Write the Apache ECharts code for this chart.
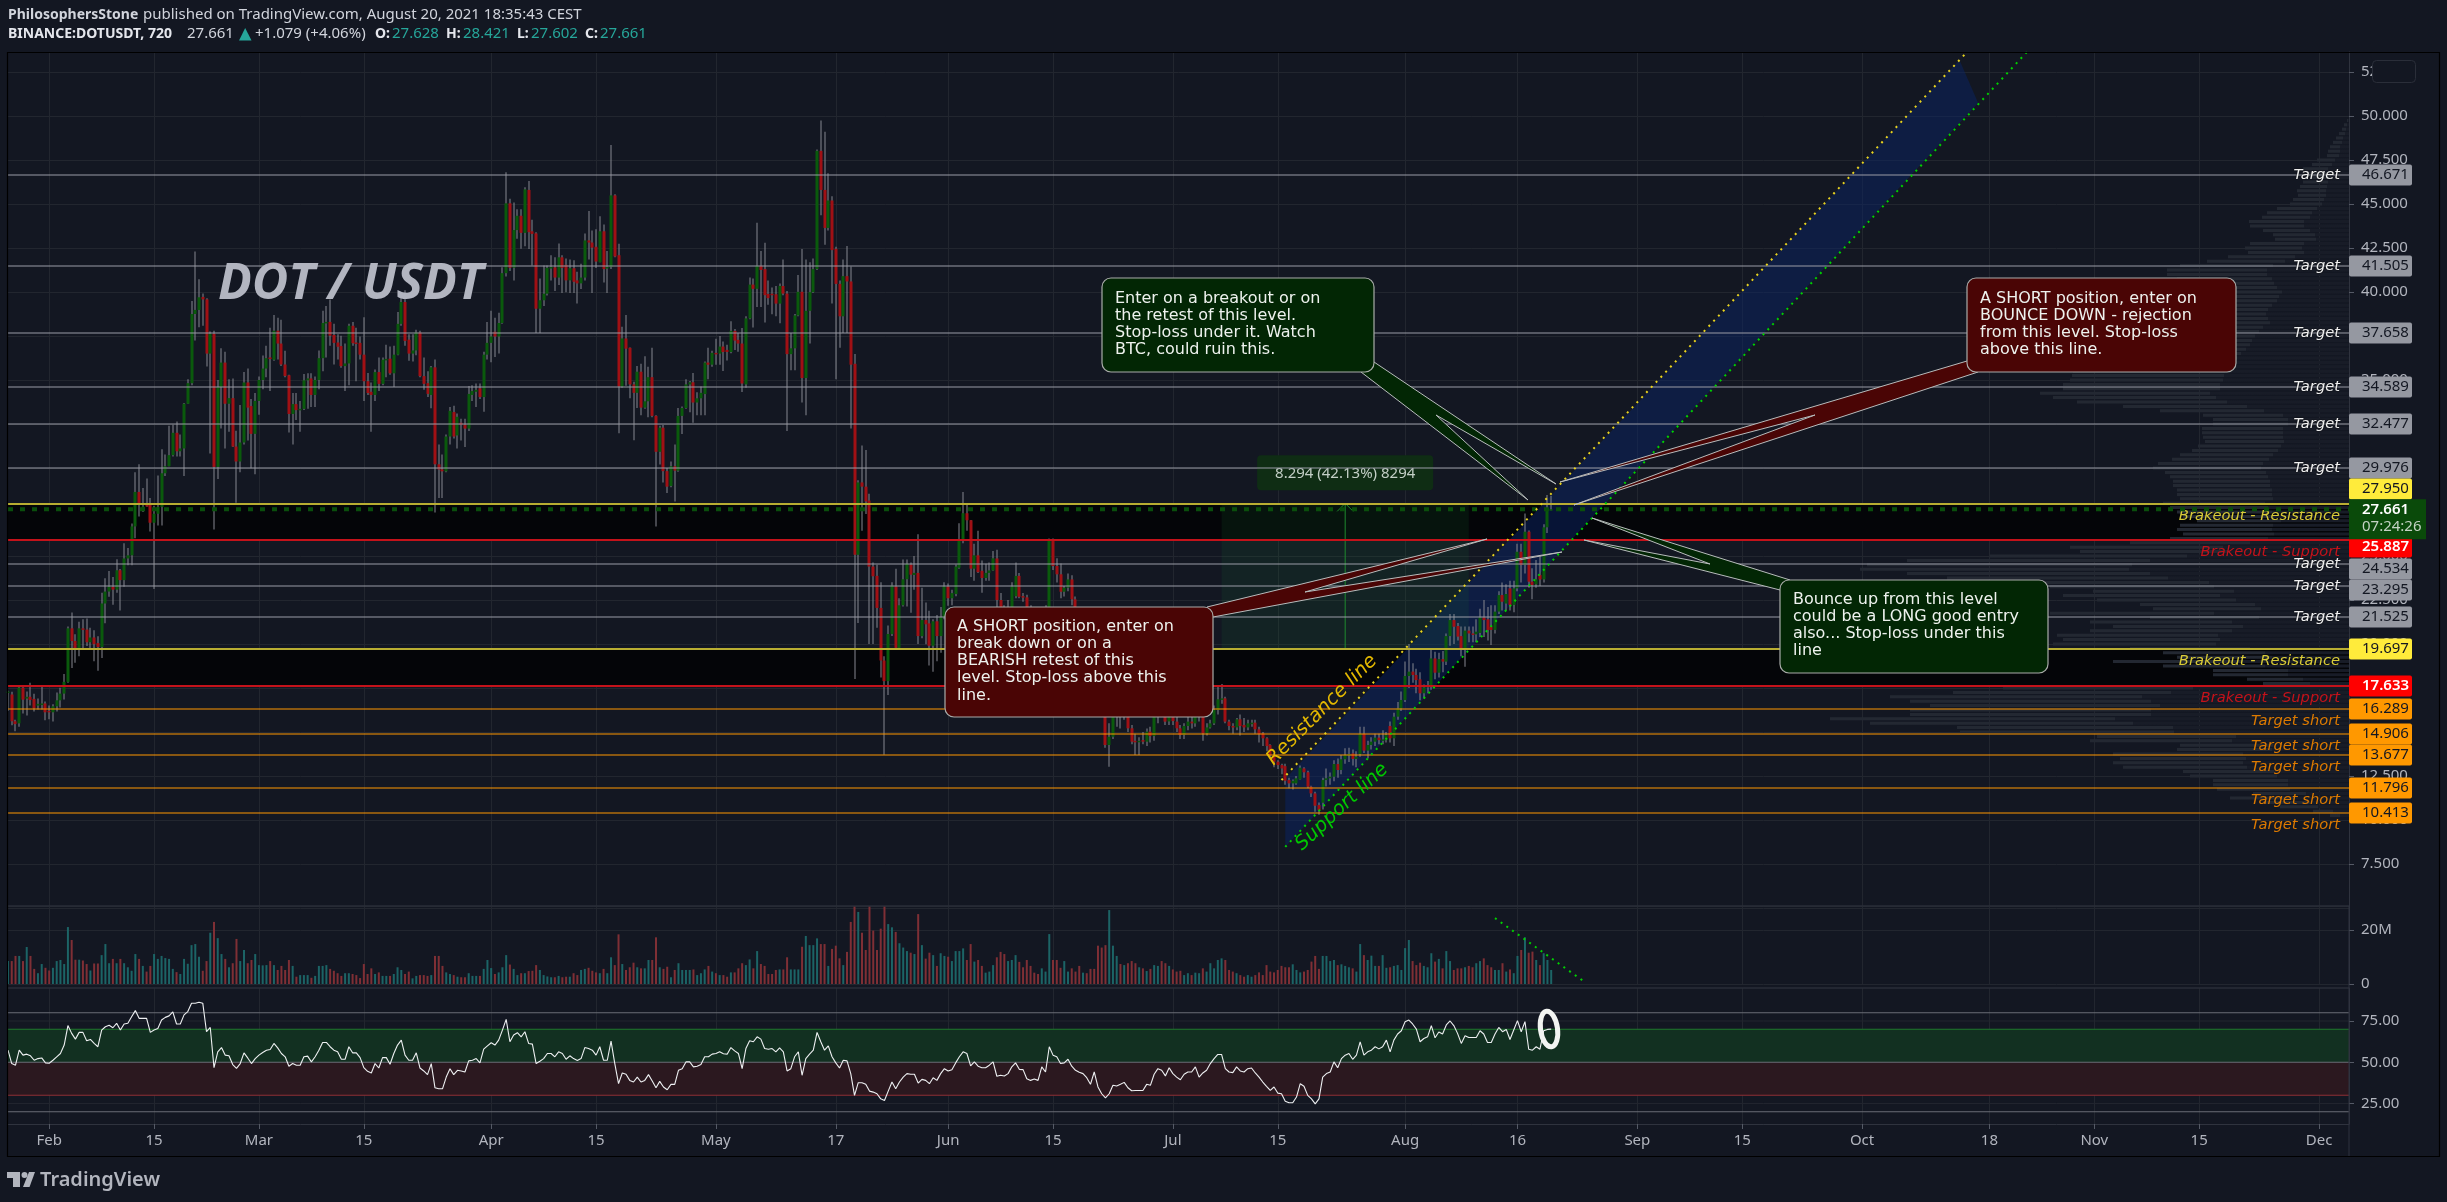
<!DOCTYPE html>
<html><head><meta charset="utf-8"><title>DOT / USDT</title>
<style>html,body{margin:0;padding:0;background:#131722;overflow:hidden}#c{width:2447px;height:1202px}</style>
<script src="https://cdn.jsdelivr.net/npm/echarts@6/dist/echarts.min.js"></script></head><body><div id="c"></div><script>
// candles, 12h: [open, close, low, high]
const ohlc=[[17.3,17.3,16.2,17.35],[17.13,15.61,15.38,17.29],[15.61,15.45,15.04,15.7],[15.49,17.52,15.3,17.6],[17.52,16.84,16.05,17.63],[16.9,17,15.94,17.3],[17,16.82,16.5,17.8],[16.88,16.35,16.17,17.18],[16.5,16.6,16.28,16.9],[16.53,16.62,16.28,17.58],
[16.62,16.12,15.67,16.73],[16.2,16.12,15.72,16.5],[16.12,16.46,15.6,16.57],[16.46,16.8,16.17,17.25],[16.8,17.18,16.39,17.52],[17.18,17.85,16.84,18.3],[17.85,20.89,17.8,21],[20.89,20.17,18.64,21.79],[20.17,19.72,18.93,20.55],[19.72,20.89,19.31,21.27],
[20.89,20.82,19.76,21.4],[20.82,20.1,19.88,21.45],[20.1,20.37,19.76,20.93],[20.37,19.99,19.02,20.78],[20.05,19.83,18.48,20.44],[19.83,22.3,19.2,22.91],[22.3,22.98,21.18,23.74],[22.98,23.25,22.68,24.15],[23.25,23.09,22.23,23.81],[23.09,24.19,22.91,24.82],
[24.19,23.63,21.9,24.26],[23.63,24.86,23.25,25.72],[24.86,25.04,24.48,25.45],[25.04,26.68,24.48,26.84],[26.68,28.64,26.01,29.76],[28.64,27.97,27.25,30.21],[27.6,27.8,27.5,28.86],[27.9,27.85,27.8,29.4],[27.92,26.89,26.39,28.3],[26.89,27.4,23.13,27.85],
[27.4,27.79,26.73,29.58],[27.79,29.7,26.73,31.07],[29.7,30.1,29.54,30.77],[30.1,30.73,30.1,32.4],[30.73,32,30.66,32.46],[32,30.95,30.66,32.64],[30.95,31.11,30.66,31.9],[31.11,33.65,29.54,33.7],[33.65,34.82,33.65,35.04],[34.82,38.75,34.7,39.49],
[38.75,38.98,37.25,42.3],[38.98,39.7,38,40.73],[39.72,39.58,38.08,39.92],[39.58,36.5,35.76,39.65],[36.5,37.63,30.82,37.76],[37.63,30.06,26.5,37.8],[30.06,34.6,29.38,35],[34.6,35.99,32.24,36.8],[35.99,33.65,31.11,36.6],[33.65,33.97,32.06,35.04],
[33.97,31.22,31.2,35.09],[31.22,30.37,28.03,32.12],[30.37,31.45,29.76,33.58],[31.45,34.86,31.34,35.45],[34.86,33.43,31.56,35.65],[33.52,31.94,29.99,33.92],[31.94,33.81,29.65,34.26],[33.81,35,33.02,35.2],[35,35.65,34.48,36.39],[35.65,36.24,35.16,36.95],
[36.28,36.19,34.37,37.97],[36.15,37.8,36.1,38.7],[37.8,37.07,36.17,38.53],[37.07,35.88,35.8,38.42],[35.88,35.23,35.16,36.66],[35.27,33.07,32.01,35.3],[33.07,33.63,31.34,34.26],[33.63,33.29,32.73,34.26],[33.29,33.36,32.06,33.81],[33.36,34.98,33.3,35.34],
[34.98,35.09,33.36,35.38],[35.09,34.15,33.47,35.38],[34.15,35,33.47,35.2],[35,36.24,34.48,36.68],[36.24,38.24,35.49,38.93],[38.24,38.3,36.28,39.2],[38.3,37.52,36.95,39.58],[37.56,37.11,35.88,38.2],[37.13,36.89,36.17,37.6],[36.93,35.79,35.7,37.52],
[35.79,35.94,34.37,37.07],[35.94,38.08,34.7,38.2],[38.08,37.09,36.95,38.3],[37.13,37.07,34.93,37.97],[37.11,36.44,36.17,37.47],[36.44,34.93,33.81,38.57],[34.93,34.26,34.15,35.4],[34.33,34.15,32.06,34.86],[34.15,35.45,33.81,35.6],[35.45,34.78,34.37,36.28],
[34.78,36.15,34.7,36.28],[36.15,36.2,35.16,37],[36.21,35.38,35.3,36.91],[35.38,36.44,34.6,36.95],[36.44,38.19,36.4,38.86],[38.19,39.43,38.08,39.76],[39.43,37.22,36.95,40.1],[37.29,36.5,36.1,37.6],[36.5,36.68,36.05,37.6],[36.68,37.7,36.4,37.85],
[37.7,35.22,35.16,37.8],[35.22,34.78,34.44,36.28],[34.82,34.21,34.03,35.49],[34.15,35.72,33.4,35.8],[35.72,30.21,27.47,36.17],[30.21,29.92,28.3,31.34],[29.92,29.81,28.3,30.77],[29.81,31.79,29.76,31.9],[31.79,33.25,31.34,33.47],[33.18,31.79,31.67,33.54],
[31.85,32.91,31.11,33.1],[32.57,32.46,31.56,32.8],[32.46,32.24,31.2,32.8],[32.24,34.21,32.1,34.66],[34.15,34.37,33.81,34.7],[34.33,34.44,33.47,34.8],[34.53,34.03,33.92,34.8],[34.03,36.44,33.2,36.6],[36.44,37.11,36.17,38.3],[37.11,37.47,36.01,38.93],
[37.74,37.47,36.3,38.53],[37.47,38.24,36.5,38.82],[38.24,41.07,38.19,41.4],[41.07,45.04,40.88,46.8],[45.04,41.38,41.2,45.3],[41.38,43.52,40.66,45.09],[43.52,44.33,43.02,44.7],[44.33,43.36,42.46,44.7],[43.36,45.83,42.6,45.95],[45.8,43.4,42.45,46.3],
[43.45,43.3,41.5,44.1],[43.33,39.05,37.67,43.4],[39.05,39.53,37.67,40.77],[39.53,39.9,39.2,41.5],[39.9,41.37,39.8,41.5],[41.35,41.42,40.66,42.09],[41.4,40.82,40.06,41.97],[40.82,41.97,40.4,42.76],[41.97,41.37,39.94,42.09],[41.54,40.66,39.98,41.9],
[40.66,41.35,39.94,41.85],[41.35,40.58,39.94,41.8],[40.66,40.49,39.34,41.15],[40.49,40.82,40.17,41.6],[40.82,42.93,40.66,43.33],[42.93,42.81,41.85,44.6],[42.81,42.52,39.94,43.5],[42.57,41.73,41.37,43.57],[41.69,43.45,41.69,44.3],[43.45,41.3,40.54,43.84],
[41.35,41.42,39.94,42.33],[41.42,45.49,41.3,48.35],[45.49,42.02,41.97,45.55],[42.09,34.63,31.98,42.74],[34.63,37.36,34.56,38.03],[37.36,36.78,34.68,38.7],[36.83,34.75,33.96,36.85],[34.75,34.27,31.57,34.9],[34.27,35.47,33.41,35.8],[35.47,33.43,33,35.92],
[33.43,33.79,33.36,36.35],[33.79,35.16,32.88,35.75],[35.16,32.96,32.88,36.83],[32.96,30.92,26.67,33],[30.92,32.29,30.2,32.4],[32.29,29.82,29.18,32.45],[29.82,28.94,28.58,30],[28.98,30.1,28.9,30.37],[30.1,29.85,28.1,31.33],[29.85,32.96,29.78,33.41],
[32.96,33.41,31.93,33.5],[33.41,34.75,33.36,35.04],[34.75,34.87,33.17,34.95],[34.87,33.72,32.57,35.4],[33.72,33.96,33,34.3],[33.96,34.27,33,34.63],[34.2,35.99,33,36.05],[35.99,35.87,35.04,36.83],[35.87,36.54,35.75,36.66],[36.54,36.47,35.87,37.35],
[36.5,36.9,35.87,37.5],[36.9,36.59,35.51,37.19],[36.71,36.59,36.11,37],[36.59,37.79,36.52,38.34],[37.79,37.24,36.71,37.9],[37.28,37.07,36.6,37.67],[37.07,34.8,34.32,37.95],[34.75,38.5,34.56,38.62],[38.5,40.42,38.45,40.82],[40.42,40.18,37.98,40.77],
[40.18,41.49,39.15,43.93],[41.49,41.25,39.15,42.33],[41.3,39.82,38.26,42.8],[39.89,39.65,39.27,40.66],[39.9,39.82,38.74,40.25],[39.87,39.34,38.62,40.34],[39.34,40.34,38.22,40.48],[40.34,39.91,39.82,41.85],[39.91,36.47,32.1,40.06],[36.47,36.8,35.56,37.67],
[36.8,38.67,35.56,38.75],[38.67,40.01,38.62,40.97],[40.01,35.11,33.72,42.45],[35.11,38.93,33,41.85],[38.93,39.99,37.07,41.69],[39.99,41.3,39.94,41.9],[41.3,48.02,41.25,48.1],[48.02,45.8,44.36,49.74],[45.8,43.64,42.69,49.1],[43.64,45.2,43.5,46.75],
[45.2,42.38,39.34,45.44],[42.45,40.46,35.04,42.57],[40.46,38.62,36.83,40.66],[38.62,40.9,37.67,41.85],[40.9,40.6,37.67,42.62],[40.6,35.87,32.24,41.45],[35.92,25.07,18.01,36.47],[25.07,29.18,21.2,29.3],[29.18,28.94,26.43,31.28],[28.94,28.1,27.38,31.02],
[28.15,24.4,20,28.53],[24.4,23.85,20,24.63],[23.87,22.05,20.93,24.5],[22.05,19.06,18.1,23.51],[19.06,17.89,13.71,19.3],[17.89,20.57,17.1,21.05],[20.57,23.32,20.45,23.51],[23.27,19.78,19.66,24.28],[19.78,22.2,19.7,22.6],[22.2,23.68,22.13,24.8],
[23.68,24.56,22.13,24.8],[24.51,23.94,21.77,24.63],[23.92,24.04,23.08,25],[24.04,20.45,20,26.24],[20.45,21.36,20.33,23.2],[21.36,21.12,19.98,22.36],[21.17,19.9,18.78,21.89],[19.9,21.29,18.42,21.41],[21.29,20.45,19.02,21.65],[20.45,21.53,19.5,22.1],
[21.53,23.27,21.41,23.51],[23.27,22.6,22.17,23.44],[22.6,22.89,22.2,23.08],[22.84,24.4,22.72,24.52],[24.33,25.9,24.28,26.86],[25.9,27.43,25.72,28.63],[27.43,27.03,26.43,27.98],[27.03,24.28,23.8,27.05],[24.28,25.04,23.6,25.7],[25.04,24.08,24.04,26.43],
[24.16,23.75,22.91,24.75],[23.75,24.04,23.6,24.56],[24.04,24.18,23.6,24.63],[24.18,24.87,24.16,25.28],[24.86,22.5,21.5,25.36],[22.5,21.8,21.4,22.9],[21.8,21.3,20.9,22.2],[21.3,22.1,21,22.5],[22.1,23.27,21.9,23.51],[22.72,23.87,22.6,24.63],
[23.87,22.68,22.6,24.04],[22.72,22.65,22.4,22.9],[22.65,21.9,21.4,22.8],[21.9,21.4,21,22.2],[21.4,20.7,20.3,21.7],[20.7,20.3,19.9,21],[20.3,21,20,21.3],[21,22.1,20.8,22.2],[22.1,25.91,21.9,26],[25.91,24.43,24.2,26],
[24.43,23.96,23.5,24.87],[23.96,22.97,22.6,24.58],[22.97,23.2,22.7,23.3],[23.2,23.67,23,24],[23.67,22.54,22.2,23.9],[22.54,21.9,21.3,22.7],[21.3,20.6,20.1,21.7],[20.6,21.2,20.2,21.6],[21.2,20.1,19.7,21.5],[20.1,19.4,19,20.5],
[19.4,18.6,18.2,19.8],[18.6,17.5,17,18.9],[17.5,16.8,16.4,17.9],[16.8,14.26,14.1,17],[14.26,14.73,13.03,15.5],[14.73,15.87,14.6,16.2],[15.9,16.4,15.3,16.9],[16.4,15.9,15.2,16.8],[15.9,16.5,15.7,16.9],[16.5,15.21,15,16.8],
[15.21,14.45,14.3,15.4],[14.5,14.45,13.69,14.9],[14.45,14.5,13.69,14.7],[14.54,14.45,14.3,15],[14.45,15.02,14.2,15.2],[15.02,14.77,14.4,15.3],[14.77,15.87,14.5,16.2],[15.87,16.5,15.5,16.9],[16.5,16.2,15.9,16.9],[16.4,15.59,15.4,16.7],
[15.6,16.2,15.4,16.5],[16.2,15.62,15.4,16.6],[15.59,15.21,15,15.9],[15.21,14.83,14.6,15.4],[14.83,15.34,14.6,15.5],[15.34,15.59,15.1,16],[15.59,15.49,15.2,15.9],[15.49,15.87,15.3,16.2],[15.87,16.4,15.6,17],[16.4,14.92,14.5,16.9],
[14.92,15.26,14.8,15.5],[15.26,15.49,15.2,15.7],[15.49,16.25,15.4,16.5],[16.25,16.86,16,17.6],[16.86,16.91,16.6,17.73],[16.91,15.59,15.5,17],[15.59,15.34,15.1,15.7],[15.34,15.26,14.9,15.5],[15.26,15.72,15.1,15.8],[15.72,15.34,14.8,16],
[15.4,15.26,15,15.8],[15.26,15.49,15.1,15.7],[15.49,15.53,15.3,15.7],[15.53,15.15,14.9,15.7],[15.15,14.87,14.4,15.3],[14.92,14.64,14.2,15],[14.64,14.2,13.9,14.7],[14.26,13.69,13.5,14.3],[13.69,13.31,13,13.8],[13.31,13.12,12.9,13.4],
[13.12,12.93,12.6,13.2],[13.06,12.23,12,13.2],[12.27,12.08,11.8,12.4],[12.08,12.23,11.74,12.3],[12.08,12.37,12,12.5],[12.31,12.97,12.3,13.1],[12.93,12.71,12.4,13],[12.71,11.89,11.8,12.8],[11.89,11.51,11.3,11.95],[11.51,10.81,10.47,11.6],
[10.85,10.57,10.3,11],[10.98,12.27,10.6,12.4],[12.27,12.37,11.9,12.93],[12.37,12.46,12,12.7],[12.46,13.18,12.2,13.4],[13.18,12.84,12.4,13.5],[12.84,13.45,12.6,13.7],[13.45,13.69,13.2,14.07],[13.69,13.75,13.3,14.1],[13.78,13.47,13.1,14],
[13.47,13.6,13,13.9],[13.75,14.9,13.6,15.3],[14.9,13.94,13.8,15.3],[13.94,14.26,13.5,14.5],[14.26,14.45,14,14.7],[14.45,14.68,14.2,14.9],[14.68,14.54,14.3,14.9],[14.54,14.58,14.3,15.1],[14.54,14.83,14.4,15],[15.34,14.64,14.4,15.6],
[14.64,15.87,14.2,16.1],[15.87,16.34,15.7,16.7],[16.34,16.82,16.2,17.3],[16.82,18.18,16.7,19],[18.18,18.43,17.5,20],[18.43,18.24,17.8,18.9],[18.24,17.95,17.2,18.6],[17.99,17.2,16.8,18.4],[17.2,17.54,16.9,17.7],[17.54,17.67,17.2,17.9],
[17.67,19.18,17.4,19.66],[19.18,18.37,18,19.56],[18.37,19.14,18.1,19.5],[19.14,19,18.4,19.6],[19,20.45,18.8,20.6],[20.45,21.36,19.9,21.7],[21.36,20.98,20,21.7],[21.02,20.42,20.2,21.2],[20.45,19.75,19.3,21],[19.75,20.76,18.71,21],
[20.76,20.6,20.1,21],[20.6,20.55,20.1,21],[20.55,20.7,20.1,21.4],[20.63,21.51,20.4,22],[21.51,21.36,20.4,22.5],[21.4,20.8,20.2,22.1],[20.98,20.8,19.94,22.2],[20.8,21.84,20.6,22.2],[21.84,22.78,21.7,23],[22.78,22.4,21.9,23.5],
[22.3,22.84,21.9,23.4],[23.16,22.22,21.9,23.6],[22.22,23.16,21.8,23.6],[23.16,25.24,23,25.7],[25.24,24.49,23.5,25.7],[24.49,26.38,24,27.42],[26.38,23.54,23.2,26.45],[23.54,23.35,22.54,24.3],[23.39,23.67,23.2,24.77],[23.92,23.67,23.3,25],
[23.67,26.63,23.5,26.8],[26.63,27.71,26.3,28.47],[27.628,27.661,27.602,28.421]];
// traded volume in millions, one value per candle
const volumes=[8.5,8.5,10.4,10.4,8.5,13.7,10.4,5.6,4,7.4,6,5,6,8.5,8.9,7.4,21.1,16.3,9,9,8.7,7.4,5,7.6,7.6,
10.7,14.8,7.7,9.3,7.7,9.3,7.7,6.2,4.9,11.1,9.3,6.7,4.6,6.7,11.1,9.3,10.4,9.6,9.3,5.6,4.4,3.7,9.3,7.5,14.4,14.8,10.1,4.9,8.5,19,23,17,11.1,9.3,6.2,7.7,16.7,8.5,12.6,7.7,8.9,11.1,7,6.9,7,8.5,7,5.2,6.7,5.2,8.9,6.7,2.7,3.3,3.3,3.3,2.3,3,6.7,6.7,7,5.6,4.9,4,3,4,4,3.7,3.3,2.2,7.4,3.7,5.8,3.7,4.3,3,3,3,3.7,6.2,5.2,3.7,4.6,2.1,3,3.3,3.3,3,3.3,10.4,10.4,6.7,4.3,3.7,3.3,2.7,2.5,2.5,4,3,3,3,5.6,8.9,5.9,3.7,4.3,6.2,10.7,7.2,5.6,3.3,4,4,4.8,4.9,7,5.2,3.3,2.8,2.5,2.5,3,2.5,2.7,2.7,4,3.3,5.2,5.6,6,4.9,4.3,4,5.6,4,9.9,7,18.4,7.4,5.2,6.2,7.9,6.2,5.8,5.8,8.9,8.9,17.3,6.2,5.6,6.4,2.5,5.2,7.7,5.2,5.2,5.2,5.4,3.3,4,5.4,6.7,4.6,4,3.3,3.3,2.7,4.3,4.3,5.8,7.7,7,9.1,5.8,12.2,7.4,6.7,3.7,3.7,5.2,5.4,5.4,9.9,5.4,5.4,5.4,
13.8,17.8,14.4,14.4,16.9,14.8,14.8,6.7,13,14.2,9.5,7,11.9,23,32,26.7,19,12.6,33,19.8,12.6,20.5,36,22.2,21,19.3,15.1,13.5,12.2,11.6,11.1,25.9,14.4,9.4,11.6,10.7,6.7,11.4,10.4,10.1,8.5,12.2,12.2,13.2,8.9,14.8,8.3,8.9,6.7,4.2,4.6,7,9.9,11.9,11.1,8.5,8.9,10.7,8.2,6.2,8.9,6.7,4.2,3.7,5.8,4.6,18.5,8.9,8.9,6,8.5,4.6,5.8,4.6,6.7,4.2,4,5.6,5.6,14.2,13.5,14.4,27.4,14.2,10.4,7.4,7,7.7,8.5,7.7,6.2,5.8,4.8,5.6,7,6.7,8.5,7.7,6.7,5.4,4.6,4.9,3.3,4,3.3,4.2,4,5.8,4.6,7.7,5.8,8.9,9.5,8.9,5.2,4.6,4,3.3,2.7,3.3,2.7,3.3,4.3,3.3,7,4.6,4.3,5.2,6.7,6.2,6.2,7.3,5.2,4.3,4.6,5.2,8.3,10.4,5.6,10.4,10.4,8.5,8.9,7,7.3,6.7,6.2,5.8,4.6,14.8,10.7,8.9,10.5,6.7,6.7,10.7,6,6.2,6.7,7,5.2,13.3,16.3,8.5,7,7.9,6.7,6.2,11.4,8.3,9.3,5.8,12.2,8.5,5.2,5.8,5.8,6.2,6.7,6.2,7.7,8.5,9.5,7,6.2,5.2,5.2,7.7,4.6,5.4,4,10.4,12.6,17.3,11.6,12,8.9,7,11.4,8.9,5.2];
// RSI, one value per candle
const rsiValues=[57.3,49.2,48.2,57.3,54.3,54.9,53.9,51.2,52.2,52.6,49.6,49.4,51.2,53.3,55.3,60.4,72.2,67.5,64,68.1,68.1,63,63.8,61.4,59.4,69.5,71.5,72.4,70.9,73.6,69.5,73.2,73.6,77.6,81.3,76.6,76.6,76.6,68.1,69.5,70.5,75.6,77.2,78.1,80.5,73.2,73.2,78.7,80.7,85.8,85.8,86.4,85.8,68.5,71.1,46.7,56.3,58.9,54.3,53.9,48.6,46.3,49.2,55.7,52.6,49.2,52.2,54.3,55.9,57.3,57.7,61.4,58.7,55.3,53.3,47.6,49.2,48.2,48.2,53.3,53.7,50.2,53.3,57.3,62,62,59.4,57.3,56.3,51.8,51.8,59.4,55.7,55.7,52.8,46.7,44.5,43.5,49.2,46.5,52.8,52.8,48.8,55.3,60.4,63.4,54.3,51.2,51.2,55.7,46.5,44.7,42.5,49.2,34.5,33.9,33.9,41,46.1,42.5,45.1,44.7,44.1,50.8,51.2,52.2,49.6,57.9,59.9,61.8,60.4,63.4,69.5,76,62.4,66.5,67.9,65.4,68.5,61.4,61,49.2,50.6,52.2,55.3,55.3,53.3,56.3,55.3,51.8,53.9,52.2,51,52.2,58.9,58.3,57.3,54.3,59.4,51.2,51.2,62.8,49.2,37,43.5,42.7,39,38,41,38,39,42.5,38.6,34.5,38.4,35,33.3,36.6,36.6,45.1,46.1,50.2,50.2,47.2,47.6,48.6,53.3,53.3,54.9,55.3,56.3,55.1,54.9,58.9,56.9,55.3,46.1,58.3,63,62.4,65.4,64,58.3,57.9,58.3,56.3,58.7,56.3,44.7,46.1,53.3,56.3,
42.1,52.2,54.9,57.3,68.1,62.4,57.3,59.9,53.3,49.6,46.5,51.2,50.8,43.1,29.9,37.6,37.6,36.6,32.5,31.9,30.9,27.8,26.8,32.5,38,33.9,38,41,43.1,42.7,42.7,37.4,39.6,39,37,40.6,39,43.1,46.1,44.7,45.5,49.6,53.3,56.3,55.3,47.8,50.2,47.6,46.7,46.7,48.2,50.2,41.5,42.1,41.7,43.1,47.2,49.6,45.7,45.5,40,39,39.8,39,47.2,44.1,59.4,54.3,53.3,49.2,49.6,51.8,47.6,45.1,43.9,43.1,40.6,36.6,44.1,35,30.9,28.4,30.9,36,35.6,36.6,37.8,34.5,32.7,32.9,32.9,32.9,36.6,36,42.7,46.1,45.1,41.7,46.7,43.1,41,39.4,42.7,44.1,44.1,47.2,41,43.5,45.1,49.2,52.2,54.7,54.7,46.1,44.1,43.7,47.2,44.7,44.1,46.1,46.5,43.5,41,38,35.4,32.9,35,31.3,30.9,26.4,25.4,25.4,28.9,37,35.4,29.9,27.8,24.8,27.8,41,43.1,44.1,50.2,46.7,52.2,54.3,55.3,51.8,54.3,62.4,54.3,56.3,57.3,59.4,58.1,59.4,63.4,56.3,63.4,67.1,69.1,74.6,75.6,73.2,70.1,62.4,64.4,65.4,72.2,64.8,68.3,67.1,72.6,75,72.2,67.5,61.4,66.1,65,65,65,69.1,67.1,62,62,67.1,71.1,68.5,69.9,63.8,69.5,75.2,68.5,74.6,57.9,57.3,59.4,57.9,69.1,69.9,70.1];
// visible-range volume profile: top price of the rows and size per row, one row every 0.25 price
const profileTop=49.75, profileStep=0.25;
const profileSizes=[2,5,7,10,13,16,19,21,22,32,37,46,41,39,46,49,52,51,56,59,72,82,87,100,99,86,76,74,99,104,101,121,142,169,182,182,172,166,160,150,155,160,170,180,185,180,175,190,200,210,215,220,230,240,250,260,265,276,277,279,286,286,309,296,272,226,189,146,136,136,147,147,146,144,151,157,169,177,191,196,184,179,176,176,172,172,169,186,179,172,166,152,169,172,166,179,219,279,269,359,442,482,489,442,402,312,299,256,286,252,209,196,299,199,259,236,259,292,286,296,219,186,172,236,186,136,136,102,86,346,396,459,439,419,439,439,519,479,392,389,252,259,169,172,236,229,236,226,166,159,136,136,132,96,119,86,69,36,19];
// horizontal price levels
const levelPrices=[46.671,41.505,37.658,34.589,32.477,29.976,27.95,25.887,24.534,23.295,21.525,19.697,17.633,16.289,14.906,13.677,11.796,10.413];
const levelKinds=['t','t','t','t','t','t','y','r','t','t','t','y','r','o','o','o','o','o'];
const levelTagShift=[0,0,0,0,0,0,-15,7,5,4,0,0,0,0,0,0,0,0];
const levelText={t:'Target',y:'Brakeout - Resistance',r:'Brakeout - Support',o:'Target short'};
const zonePrices=[[27.95,25.887],[19.697,17.633]];
const lastPrice=27.661;
// drawn tools
const resistanceDates=['2021-07-15 12','2021-10-15 00'], resistancePrices=[12.27,53.63];
const supportDates=['2021-07-16 00','2021-10-23 00'], supportPrices=[8.47,53.63];
const channelDates=['2021-07-16 00','2021-10-14 00','2021-10-16 12','2021-07-16 00'], channelPrices=[12.33,53.18,50.74,8.47];
const rangeDates=['2021-07-07 12','2021-08-09 12'], rangePrices=[19.697,27.991], rangeMid='2021-07-24 00', rangeLabel='8.294 (42.13%) 8294';
const volumeTrendDates=['2021-08-13 00','2021-08-25 00'], volumeTrendValues=[24.4,0.7];
// time axis ticks
const tickDates=['2021-02-01','2021-02-15','2021-03-01','2021-03-15','2021-04-01','2021-04-15','2021-05-01','2021-05-17','2021-06-01','2021-06-15','2021-07-01','2021-07-15','2021-08-01','2021-08-16','2021-09-01','2021-09-15','2021-10-01','2021-10-18','2021-11-01','2021-11-15','2021-12-01'];
const tickLabels=['Feb','15','Mar','15','Apr','15','May','17','Jun','15','Jul','15','Aug','16','Sep','15','Oct','18','Nov','15','Dec'];
// RSI guides
const rsiLines=[80,70,50,30,20], rsiGridLines=[75,25], rsiTicks=[25,50,75];

const BG='#131722',GRID='#22262f',AX='#2f333e',TXT='#b2b5be';
const LBL='"Noto Sans",sans-serif', NOTE='"DejaVu Sans",sans-serif';
const pad=n=>String(n).padStart(2,'0');
const cats=[];for(let i=0;i<626;i++){const t=new Date(Date.UTC(2021,0,26,12)+i*43200000);cats.push(t.getUTCFullYear()+'-'+pad(t.getUTCMonth()+1)+'-'+pad(t.getUTCDate())+' '+pad(t.getUTCHours()));}
const idx=s=>cats.indexOf(s);
const tickMap={};tickDates.forEach((d,i)=>{tickMap[d+' 00']=tickLabels[i];});
const isTick=(i,v)=>v in tickMap;
function xAxis(g,labels){return{type:'category',gridIndex:g,data:cats,boundaryGap:false,
 axisLine:{show:labels,lineStyle:{color:AX,width:1}},axisTick:{show:labels,interval:isTick,length:5,lineStyle:{color:'#555a66'}},
 axisLabel:{show:labels,interval:isTick,formatter:v=>tickMap[v]||'',color:TXT,fontFamily:LBL,fontSize:15,margin:9,hideOverlap:false},
 splitLine:{show:true,interval:isTick,lineStyle:{color:GRID,width:1}}};}
const yBase={position:'right',axisLine:{show:true,lineStyle:{color:AX}},axisTick:{show:true,length:5,lineStyle:{color:'#555a66'}},splitLine:{show:true,lineStyle:{color:GRID,width:1}}};
const lab=f=>({color:TXT,fontFamily:LBL,fontSize:15,margin:12,formatter:f});

const option={animation:false,backgroundColor:BG,
 grid:[{left:8,right:98,top:52,height:856},{left:8,right:98,top:906,height:78},{left:8,right:98,top:988,height:136}],
 xAxis:[xAxis(0,false),xAxis(1,false),xAxis(2,true),{type:'value',gridIndex:0,min:0,max:2341,inverse:true,show:false,splitLine:{show:false}}],
 yAxis:[Object.assign({},yBase,{type:'value',gridIndex:0,min:5,max:53.636,interval:2.5,axisLabel:Object.assign(lab(v=>v.toFixed(3)),{showMinLabel:false,showMaxLabel:false})}),
  Object.assign({},yBase,{type:'value',gridIndex:1,min:0,max:28.9,interval:20,axisLabel:Object.assign(lab(v=>v===0?'0':v+'M'),{showMaxLabel:false})}),
  Object.assign({},yBase,{type:'value',gridIndex:2,min:12.56,max:95,splitLine:{show:false},axisTick:{show:true,length:5,customValues:rsiTicks,lineStyle:{color:'#555a66'}},axisLabel:Object.assign(lab(v=>v.toFixed(2)),{customValues:rsiTicks})})],
 series:[
 {type:'custom',name:'zones',z:1,silent:true,data:zonePrices,encode:{x:[],y:[0,1]},xAxisIndex:0,yAxisIndex:0,renderItem(p,api){const c=p.coordSys,a=api.coord([0,api.value(0)])[1],b=api.coord([0,api.value(1)])[1];return{type:'rect',shape:{x:c.x,y:a,width:c.width,height:b-a},style:{fill:'#040508'}};}},
 {type:'custom',name:'channel',z:2,silent:true,data:[0],xAxisIndex:0,yAxisIndex:0,renderItem(p,api){return{type:'polygon',shape:{points:channelDates.map((d,i)=>api.coord([idx(d),channelPrices[i]]))},style:{fill:'rgba(10,35,100,0.5)'}};}},
 {type:'custom',name:'range',z:2,silent:true,data:[0],xAxisIndex:0,yAxisIndex:0,renderItem(p,api){const a=api.coord([idx(rangeDates[0]),rangePrices[1]]),b=api.coord([idx(rangeDates[1]),rangePrices[0]]),m=api.coord([idx(rangeMid),rangePrices[1]]);
   return{type:'group',children:[{type:'rect',shape:{x:a[0],y:a[1],width:b[0]-a[0],height:b[1]-a[1]},style:{fill:'rgba(20,110,50,0.14)'}},
    {type:'line',shape:{x1:m[0],y1:a[1],x2:m[0],y2:b[1]},style:{stroke:'#1f8a2e',lineWidth:1}},
    {type:'polyline',shape:{points:[[m[0]-8,a[1]+8],[m[0],a[1]],[m[0]+8,a[1]+8]]},style:{stroke:'#1f8a2e',lineWidth:1,fill:'none'}},
    {type:'rect',shape:{x:m[0]-88,y:a[1]-48,width:176,height:35,r:4},style:{fill:'#0f2d14'}},
    {type:'text',style:{text:rangeLabel,x:m[0],y:a[1]-30,fill:'#c3cfc6',font:'15px '+LBL,align:'center',verticalAlign:'middle'}}]};}},
 {type:'custom',name:'profile',z:3,silent:true,xAxisIndex:3,yAxisIndex:0,data:profileSizes.map((s,i)=>[s,profileTop-i*profileStep]),encode:{x:0,y:1},renderItem(p,api){const a=api.coord([api.value(0),api.value(1)]),r=api.coord([0,api.value(1)]);
   return{type:'rect',shape:{x:a[0],y:a[1]-1.5,width:r[0]-a[0],height:3},style:{fill:new echarts.graphic.LinearGradient(0,0,1,0,[{offset:0,color:'#232832'},{offset:0.55,color:'#232832'},{offset:0.55,color:'#181c27'},{offset:1,color:'#181c27'}])}};}},
 {type:'custom',name:'candles',z:4,silent:true,xAxisIndex:0,yAxisIndex:0,data:ohlc.map((r,i)=>[i,r[0],r[1],r[2],r[3]]),encode:{x:0,y:[1,2,3,4]},renderItem(p,api){const i=api.value(0),o=api.coord([i,api.value(1)]),c=api.coord([i,api.value(2)]),l=api.coord([i,api.value(3)]),h=api.coord([i,api.value(4)]);const up=api.value(2)>=api.value(1),x=Math.round(o[0]),t=Math.min(o[1],c[1]),bh=Math.max(1.5,Math.abs(o[1]-c[1]));
   return{type:'group',children:[{type:'rect',shape:{x:x-0.5,y:h[1],width:1,height:l[1]-h[1]},style:{fill:'#85888f'}},{type:'rect',shape:{x:x-1.5,y:t,width:3,height:bh},style:{fill:up?'#0a5a0c':'#a01014'}}]};}},
 {type:'custom',name:'levels',z:5,silent:true,xAxisIndex:0,yAxisIndex:0,data:levelPrices.map((v,i)=>[0,v,i]),encode:{y:1},renderItem(p,api){const i=api.value(2),c=p.coordSys,y=Math.round(api.coord([0,api.value(1)])[1]),k=levelKinds[i],R=c.x+c.width;
   const col={t:'#9a9ca5',y:'#b9ae32',r:'#c4121a',o:'#ff9800'}[k],lw={t:1,y:2,r:2,o:1}[k];
   const tagF={t:'#9598a1',y:'#ffeb3b',r:'#ff0000',o:'#ff9800'}[k],tagT=k==='r'?'#ffffff':'#131722',tc=y+levelTagShift[i];
   const labF={t:'#f0f0f0',y:'#d9cb38',r:'#c4121a',o:'#dd7a00'}[k],ly=k==='t'?y:y+12;
   return{type:'group',children:[{type:'rect',shape:{x:c.x,y:y-lw/2,width:c.width,height:lw},style:{fill:col}},
    {type:'text',z2:2,style:{text:levelText[k],x:R-9,y:ly,fill:labF,font:'italic 14.7px '+NOTE,align:'right',verticalAlign:'middle',textShadowColor:k==='t'?'#000':undefined,textShadowBlur:k==='t'?2:0}},
    {type:'rect',z2:3,shape:{x:R,y:tc-10.5,width:63,height:21,r:2},style:{fill:tagF}},
    {type:'text',z2:4,style:{text:api.value(1).toFixed(3),x:R+13,y:tc,fill:tagT,font:(k==='r'?'600 ':'')+'15px '+LBL,verticalAlign:'middle'}}]};}},
 {type:'line',name:'last',z:5,silent:true,xAxisIndex:0,yAxisIndex:0,symbol:'none',data:[[cats[0],lastPrice],[cats[625],lastPrice]],lineStyle:{color:'#0a4f0c',width:4,type:[5,7]}},
 {type:'custom',name:'lastTag',z:6,silent:true,xAxisIndex:0,yAxisIndex:0,data:[0],renderItem(p,api){const c=p.coordSys,R=c.x+c.width,y=api.coord([0,lastPrice])[1];return{type:'group',children:[{type:'rect',shape:{x:R,y:y-10,width:77,height:40},style:{fill:'#0a4a0a'}},
   {type:'text',style:{text:lastPrice.toFixed(3),x:R+13,y:y+1,fill:'#fff',font:'600 15px '+LBL,verticalAlign:'middle'}},{type:'text',style:{text:'07:24:26',x:R+13,y:y+18,fill:'#c4d2c4',font:'15px '+LBL,verticalAlign:'middle'}}]};}},
 {type:'line',name:'resistance',z:6,silent:true,xAxisIndex:0,yAxisIndex:0,symbol:'none',data:resistanceDates.map((d,i)=>[d,resistancePrices[i]]),lineStyle:{color:'#e8d320',width:2,type:[2,5]}},
 {type:'line',name:'support',z:6,silent:true,xAxisIndex:0,yAxisIndex:0,symbol:'none',data:supportDates.map((d,i)=>[d,supportPrices[i]]),lineStyle:{color:'#00d000',width:2,type:[2,5]}},
 {type:'bar',name:'volume',xAxisIndex:1,yAxisIndex:1,silent:true,barWidth:2,data:volumes.map((v,i)=>({value:v,itemStyle:{color:ohlc[i]&&ohlc[i][1]>=ohlc[i][0]?'#1c6466':'#7f2f35'}}))},
 {type:'line',name:'volumeTrend',z:6,silent:true,xAxisIndex:1,yAxisIndex:1,symbol:'none',data:volumeTrendDates.map((d,i)=>[d,volumeTrendValues[i]]),lineStyle:{color:'#00d000',width:2,type:[2,5]}},
 {type:'custom',name:'rsiGuides',z:1,silent:true,xAxisIndex:2,yAxisIndex:2,data:[0],renderItem(p,api){const c=p.coordSys,Y=v=>api.coord([0,v])[1],ch=[];
   ch.push({type:'rect',shape:{x:c.x,y:Y(70),width:c.width,height:Y(50)-Y(70)},style:{fill:'#123021'}},{type:'rect',shape:{x:c.x,y:Y(50),width:c.width,height:Y(30)-Y(50)},style:{fill:'#2b181f'}});
   rsiGridLines.forEach(v=>ch.push({type:'line',shape:{x1:c.x,y1:Y(v),x2:c.x+c.width,y2:Y(v)},style:{stroke:GRID,lineWidth:1}}));
   rsiLines.forEach(v=>ch.push({type:'line',shape:{x1:c.x,y1:Y(v),x2:c.x+c.width,y2:Y(v)},style:{stroke:v===70?'#1f7a2c':v===30?'#8e2f35':'#6a6d76',lineWidth:1.2}}));
   return{type:'group',children:ch};}},
 {type:'line',name:'rsi',z:3,silent:true,xAxisIndex:2,yAxisIndex:2,symbol:'none',data:rsiValues,lineStyle:{color:'#eef0f2',width:1.1}}
 ],
 graphic:{elements:[]}};

// ---- annotation helpers ----
const G=option.graphic.elements;
function wedge(pts,fill){G.push({type:'polygon',z:20,silent:true,shape:{points:pts},style:{fill,stroke:'#b8bcbc',lineWidth:1}});}
function note(x,y,w,h,fill,lines,tx,ty){G.push({type:'rect',z:21,silent:true,shape:{x,y,width:w,height:h,r:9},style:{fill,stroke:'#a9aca9',lineWidth:1.2}});
 G.push({type:'text',z:22,silent:true,style:{text:lines.join('\n'),x:tx,y:ty,fill:'#eef2ee',font:'16px '+NOTE,lineHeight:17.2,verticalAlign:'top'}});}
const DG='#022604',DR='#4a0505';
wedge([[1361,372],[1528,500],[1436,415],[1556,484],[1374,362]],DG);
wedge([[1207,607],[1487,539],[1305,592],[1562,552],[1213,617]],DR);
wedge([[1967,361],[1560,482],[1815,415],[1574,505],[1978,372]],DR);
wedge([[1790,580],[1592,518],[1710,564],[1584,540],[1780,590]],DG);
note(1102,278,272,94,DG,['Enter on a breakout or on','the retest of this level.','Stop-loss under it. Watch','BTC, could ruin this.'],1115,290);
note(945,607,268,110,DR,['A SHORT position, enter on','break down or on a','BEARISH retest of this','level. Stop-loss above this','line.'],957,618);
note(1967,278,269,94,DR,['A SHORT position, enter on','BOUNCE DOWN - rejection','from this level. Stop-loss','above this line.'],1980,290);
note(1780,580,268,93,DG,['Bounce up from this level','could be a LONG good entry','also... Stop-loss under this','line'],1793,591);
const T=(o)=>G.push(Object.assign({type:'text',silent:true,z:25},o));
T({x:1322,y:710,rotation:Math.PI/4,style:{text:'Resistance line',fill:'#e3b800',font:'italic 19.5px '+NOTE,align:'center',verticalAlign:'middle'}});
T({x:1342,y:807,rotation:0.75,style:{text:'Support line',fill:'#00c800',font:'italic 19.5px '+NOTE,align:'center',verticalAlign:'middle'}});
T({style:{text:'DOT / USDT',x:218,y:285,fill:'#b2b5c0',font:'italic bold 50px "Open Sans",sans-serif',verticalAlign:'middle'}});
// pane separators and frame
[[906],[988]].forEach(a=>G.push({type:'line',z:7,silent:true,shape:{x1:8,y1:a[0],x2:2349,y2:a[0]},style:{stroke:'#2a2e39',lineWidth:1.5}}));
G.push({type:'rect',z:30,silent:true,shape:{x:7.5,y:52.5,width:2432,height:1104},style:{fill:'none',stroke:'#000',lineWidth:1.2}});
G.push({type:'line',z:30,silent:true,shape:{x1:2349,y1:906,x2:2349,y2:1156},style:{stroke:AX,lineWidth:1}});
// RSI marker
G.push({type:'ellipse',z:26,silent:true,x:1549,y:1029,rotation:0.14,shape:{cx:0,cy:0,rx:8.5,ry:18},style:{fill:'none',stroke:'#f2f4f2',lineWidth:5}});
// currency badge
G.push({type:'rect',z:26,silent:true,shape:{x:2372.5,y:60.5,width:43,height:22,r:4},style:{fill:BG,stroke:'#2a2e39',lineWidth:1}});
T({style:{text:'USDT',x:2394,y:71.5,fill:TXT,font:'14.5px '+LBL,align:'center',verticalAlign:'middle'}});
// header
const HF='15px '+LBL,HB='bold 14px '+LBL,TEAL='#26a69a',HC='#d1d4dc',HW='#e4e6ec';
[['PhilosophersStone',8,15,HB,HC],['published on TradingView.com, August 20, 2021 18:35:43 CEST',143,15,HF,HC],
 ['BINANCE:DOTUSDT, 720',8,34,HB,HW],['27.661',187,34,HF,HC],['+1.079 (+4.06%)',255,34,HF,HC],
 ['O:',375,34,HB,HW],['27.628',392,34,HF,TEAL],['H:',446,34,HB,HW],['28.421',463,34,HF,TEAL],['L:',517,34,HB,HW],['27.602',531,34,HF,TEAL],['C:',585,34,HB,HW],['27.661',600,34,HF,TEAL]]
 .forEach(a=>T({style:{text:a[0],x:a[1],y:a[2],font:a[3],fill:a[4],verticalAlign:'middle'}}));
G.push({type:'polygon',z:26,silent:true,shape:{points:[[239,40.5],[251.5,40.5],[245.2,28]]},style:{fill:TEAL}});
// logo
const LG='#b2b5be';
G.push({type:'polygon',z:26,silent:true,shape:{points:[[7,1172],[20,1172],[20,1187],[13,1187],[13,1178],[7,1178]]},style:{fill:LG}});
G.push({type:'circle',z:26,silent:true,shape:{cx:24.5,cy:1175,r:3},style:{fill:LG}});
G.push({type:'polygon',z:26,silent:true,shape:{points:[[29,1172],[35,1172],[29.5,1187],[23,1187]]},style:{fill:LG}});
T({style:{text:'TradingView',x:40,y:1180,fill:LG,font:'600 20px '+LBL,verticalAlign:'middle'}});

const chart=echarts.init(document.getElementById('c'),null,{renderer:'canvas',width:2447,height:1202});
chart.setOption(option);
</script></body></html>
